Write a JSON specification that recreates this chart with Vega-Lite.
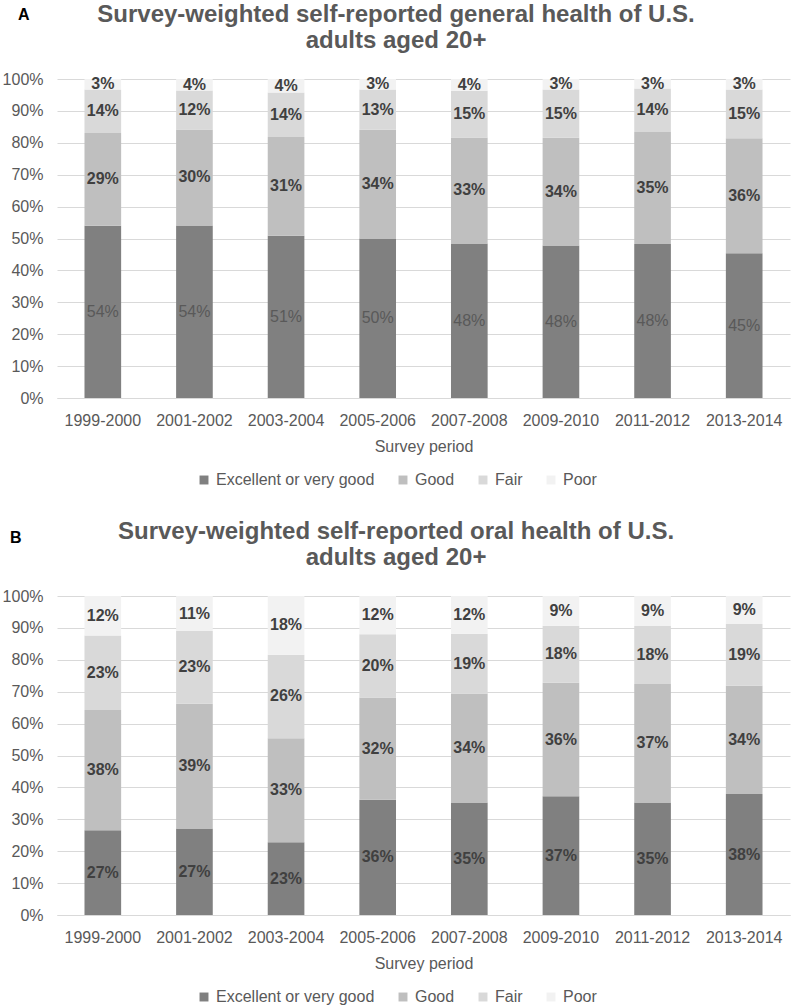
{
  "$schema": "https://vega.github.io/schema/vega-lite/v6.json",
  "padding": {"left": 2, "top": 3, "right": 4, "bottom": 0},
  "config": {
    "font": "Liberation Sans",
    "view": {"stroke": null},
    "axis": {"labelColor": "#595959", "titleColor": "#595959", "labelFontSize": 16, "titleFontSize": 16, "titleFontWeight": "normal", "gridColor": "#d9d9d9", "domainColor": "#d9d9d9", "ticks": false},
    "legend": {"labelColor": "#595959", "labelFontSize": 16, "symbolType": "square", "symbolSize": 80, "symbolStrokeWidth": 0, "columnPadding": 20, "layout": {"bottom": {"anchor": "middle"}}}
  },
  "datasets": {
    "general": [
      {"period": "1999-2000", "category": "Excellent or very good", "value": 0.540},
      {"period": "1999-2000", "category": "Good", "value": 0.291},
      {"period": "1999-2000", "category": "Fair", "value": 0.136},
      {"period": "1999-2000", "category": "Poor", "value": 0.033},
      {"period": "2001-2002", "category": "Excellent or very good", "value": 0.541},
      {"period": "2001-2002", "category": "Good", "value": 0.301},
      {"period": "2001-2002", "category": "Fair", "value": 0.122},
      {"period": "2001-2002", "category": "Poor", "value": 0.036},
      {"period": "2003-2004", "category": "Excellent or very good", "value": 0.509},
      {"period": "2003-2004", "category": "Good", "value": 0.309},
      {"period": "2003-2004", "category": "Fair", "value": 0.140},
      {"period": "2003-2004", "category": "Poor", "value": 0.042},
      {"period": "2005-2006", "category": "Excellent or very good", "value": 0.500},
      {"period": "2005-2006", "category": "Good", "value": 0.341},
      {"period": "2005-2006", "category": "Fair", "value": 0.126},
      {"period": "2005-2006", "category": "Poor", "value": 0.033},
      {"period": "2007-2008", "category": "Excellent or very good", "value": 0.484},
      {"period": "2007-2008", "category": "Good", "value": 0.333},
      {"period": "2007-2008", "category": "Fair", "value": 0.146},
      {"period": "2007-2008", "category": "Poor", "value": 0.037},
      {"period": "2009-2010", "category": "Excellent or very good", "value": 0.478},
      {"period": "2009-2010", "category": "Good", "value": 0.338},
      {"period": "2009-2010", "category": "Fair", "value": 0.151},
      {"period": "2009-2010", "category": "Poor", "value": 0.033},
      {"period": "2011-2012", "category": "Excellent or very good", "value": 0.483},
      {"period": "2011-2012", "category": "Good", "value": 0.351},
      {"period": "2011-2012", "category": "Fair", "value": 0.136},
      {"period": "2011-2012", "category": "Poor", "value": 0.030},
      {"period": "2013-2014", "category": "Excellent or very good", "value": 0.454},
      {"period": "2013-2014", "category": "Good", "value": 0.360},
      {"period": "2013-2014", "category": "Fair", "value": 0.153},
      {"period": "2013-2014", "category": "Poor", "value": 0.033}
    ],
    "oral": [
      {"period": "1999-2000", "category": "Excellent or very good", "value": 0.266},
      {"period": "1999-2000", "category": "Good", "value": 0.377},
      {"period": "1999-2000", "category": "Fair", "value": 0.233},
      {"period": "1999-2000", "category": "Poor", "value": 0.124},
      {"period": "2001-2002", "category": "Excellent or very good", "value": 0.271},
      {"period": "2001-2002", "category": "Good", "value": 0.391},
      {"period": "2001-2002", "category": "Fair", "value": 0.228},
      {"period": "2001-2002", "category": "Poor", "value": 0.110},
      {"period": "2003-2004", "category": "Excellent or very good", "value": 0.228},
      {"period": "2003-2004", "category": "Good", "value": 0.326},
      {"period": "2003-2004", "category": "Fair", "value": 0.262},
      {"period": "2003-2004", "category": "Poor", "value": 0.184},
      {"period": "2005-2006", "category": "Excellent or very good", "value": 0.361},
      {"period": "2005-2006", "category": "Good", "value": 0.321},
      {"period": "2005-2006", "category": "Fair", "value": 0.198},
      {"period": "2005-2006", "category": "Poor", "value": 0.120},
      {"period": "2007-2008", "category": "Excellent or very good", "value": 0.353},
      {"period": "2007-2008", "category": "Good", "value": 0.341},
      {"period": "2007-2008", "category": "Fair", "value": 0.188},
      {"period": "2007-2008", "category": "Poor", "value": 0.118},
      {"period": "2009-2010", "category": "Excellent or very good", "value": 0.372},
      {"period": "2009-2010", "category": "Good", "value": 0.356},
      {"period": "2009-2010", "category": "Fair", "value": 0.179},
      {"period": "2009-2010", "category": "Poor", "value": 0.093},
      {"period": "2011-2012", "category": "Excellent or very good", "value": 0.353},
      {"period": "2011-2012", "category": "Good", "value": 0.371},
      {"period": "2011-2012", "category": "Fair", "value": 0.182},
      {"period": "2011-2012", "category": "Poor", "value": 0.094},
      {"period": "2013-2014", "category": "Excellent or very good", "value": 0.379},
      {"period": "2013-2014", "category": "Good", "value": 0.340},
      {"period": "2013-2014", "category": "Fair", "value": 0.193},
      {"period": "2013-2014", "category": "Poor", "value": 0.088}
    ]
  },
  "spacing": 32,
  "resolve": {"scale": {"color": "independent"}, "legend": {"color": "independent"}},
  "vconcat": [
    {
      "title": {"text": "A", "anchor": "start", "frame": "bounds", "fontSize": 16, "fontWeight": "bold", "color": "#000000", "offset": -20, "dx": 16},
      "vconcat": [
        {
          "width": 733,
          "height": 319,
          "title": {"text": ["Survey-weighted self-reported general health of U.S.", "adults aged 20+"], "anchor": "middle", "frame": "bounds", "fontSize": 24, "fontWeight": "bold", "color": "#595959", "lineHeight": 26, "offset": 18},
          "data": {"name": "general"},
          "transform": [
            {"calculate": "indexof(['Excellent or very good','Good','Fair','Poor'], datum.category)", "as": "order"},
            {"stack": "value", "groupby": ["period"], "sort": [{"field": "order", "order": "ascending"}], "as": ["v0", "v1"]},
            {"calculate": "(datum.v0 + datum.v1) / 2", "as": "mid"}
          ],
          "encoding": {
            "x": {"field": "period", "type": "nominal", "scale": {"paddingInner": 0.6, "paddingOuter": 0.3}, "axis": {"title": "Survey period", "labelAngle": 0, "labelPadding": 14, "titlePadding": 10, "grid": false, "domain": true}}
          },
          "layer": [
            {
              "mark": {"type": "bar"},
              "encoding": {
                "y": {"field": "v0", "type": "quantitative", "scale": {"domain": [0, 1]}, "axis": {"title": null, "format": ".0%", "values": [0, 0.1, 0.2, 0.3, 0.4, 0.5, 0.6, 0.7, 0.8, 0.9, 1], "labelOverlap": false, "domain": false, "labelPadding": 14}},
                "y2": {"field": "v1"},
                "color": {"field": "category", "type": "nominal", "scale": {"domain": ["Excellent or very good", "Good", "Fair", "Poor"], "range": ["#808080", "#bfbfbf", "#d9d9d9", "#f2f2f2"]}, "legend": {"title": null, "orient": "bottom", "direction": "horizontal", "offset": 18}}
              }
            },
            {
              "transform": [{"filter": "datum.category === 'Excellent or very good'"}],
              "mark": {"type": "text", "fontSize": 16, "fontWeight": "normal", "color": "#595959"},
              "encoding": {"y": {"field": "mid", "type": "quantitative", "axis": {"title": null, "format": ".0%", "values": [0, 0.1, 0.2, 0.3, 0.4, 0.5, 0.6, 0.7, 0.8, 0.9, 1], "labelOverlap": false, "domain": false, "labelPadding": 14}}, "text": {"field": "value", "type": "quantitative", "format": ".0%"}}
            },
            {
              "transform": [{"filter": "datum.category !== 'Excellent or very good'"}],
              "mark": {"type": "text", "fontSize": 16, "fontWeight": "bold", "color": "#404040"},
              "encoding": {"y": {"field": "mid", "type": "quantitative", "axis": {"title": null, "format": ".0%", "values": [0, 0.1, 0.2, 0.3, 0.4, 0.5, 0.6, 0.7, 0.8, 0.9, 1], "labelOverlap": false, "domain": false, "labelPadding": 14}}, "text": {"field": "value", "type": "quantitative", "format": ".0%"}}
            }
          ]
        }
      ]
    },
    {
      "title": {"text": "B", "anchor": "start", "frame": "bounds", "fontSize": 16, "fontWeight": "bold", "color": "#000000", "offset": -26, "dx": 8},
      "vconcat": [
        {
          "width": 733,
          "height": 319,
          "title": {"text": ["Survey-weighted self-reported oral health of U.S.", "adults aged 20+"], "anchor": "middle", "frame": "bounds", "fontSize": 24, "fontWeight": "bold", "color": "#595959", "lineHeight": 26, "offset": 18},
          "data": {"name": "oral"},
          "transform": [
            {"calculate": "indexof(['Excellent or very good','Good','Fair','Poor'], datum.category)", "as": "order"},
            {"stack": "value", "groupby": ["period"], "sort": [{"field": "order", "order": "ascending"}], "as": ["v0", "v1"]},
            {"calculate": "(datum.v0 + datum.v1) / 2", "as": "mid"}
          ],
          "encoding": {
            "x": {"field": "period", "type": "nominal", "scale": {"paddingInner": 0.6, "paddingOuter": 0.3}, "axis": {"title": "Survey period", "labelAngle": 0, "labelPadding": 14, "titlePadding": 10, "grid": false, "domain": true}}
          },
          "layer": [
            {
              "mark": {"type": "bar"},
              "encoding": {
                "y": {"field": "v0", "type": "quantitative", "scale": {"domain": [0, 1]}, "axis": {"title": null, "format": ".0%", "values": [0, 0.1, 0.2, 0.3, 0.4, 0.5, 0.6, 0.7, 0.8, 0.9, 1], "labelOverlap": false, "domain": false, "labelPadding": 14}},
                "y2": {"field": "v1"},
                "color": {"field": "category", "type": "nominal", "scale": {"domain": ["Excellent or very good", "Good", "Fair", "Poor"], "range": ["#808080", "#bfbfbf", "#d9d9d9", "#f2f2f2"]}, "legend": {"title": null, "orient": "bottom", "direction": "horizontal", "offset": 18}}
              }
            },
            {
              "mark": {"type": "text", "fontSize": 16, "fontWeight": "bold", "color": "#404040"},
              "encoding": {"y": {"field": "mid", "type": "quantitative", "axis": {"title": null, "format": ".0%", "values": [0, 0.1, 0.2, 0.3, 0.4, 0.5, 0.6, 0.7, 0.8, 0.9, 1], "labelOverlap": false, "domain": false, "labelPadding": 14}}, "text": {"field": "value", "type": "quantitative", "format": ".0%"}}
            }
          ]
        }
      ]
    }
  ]
}
